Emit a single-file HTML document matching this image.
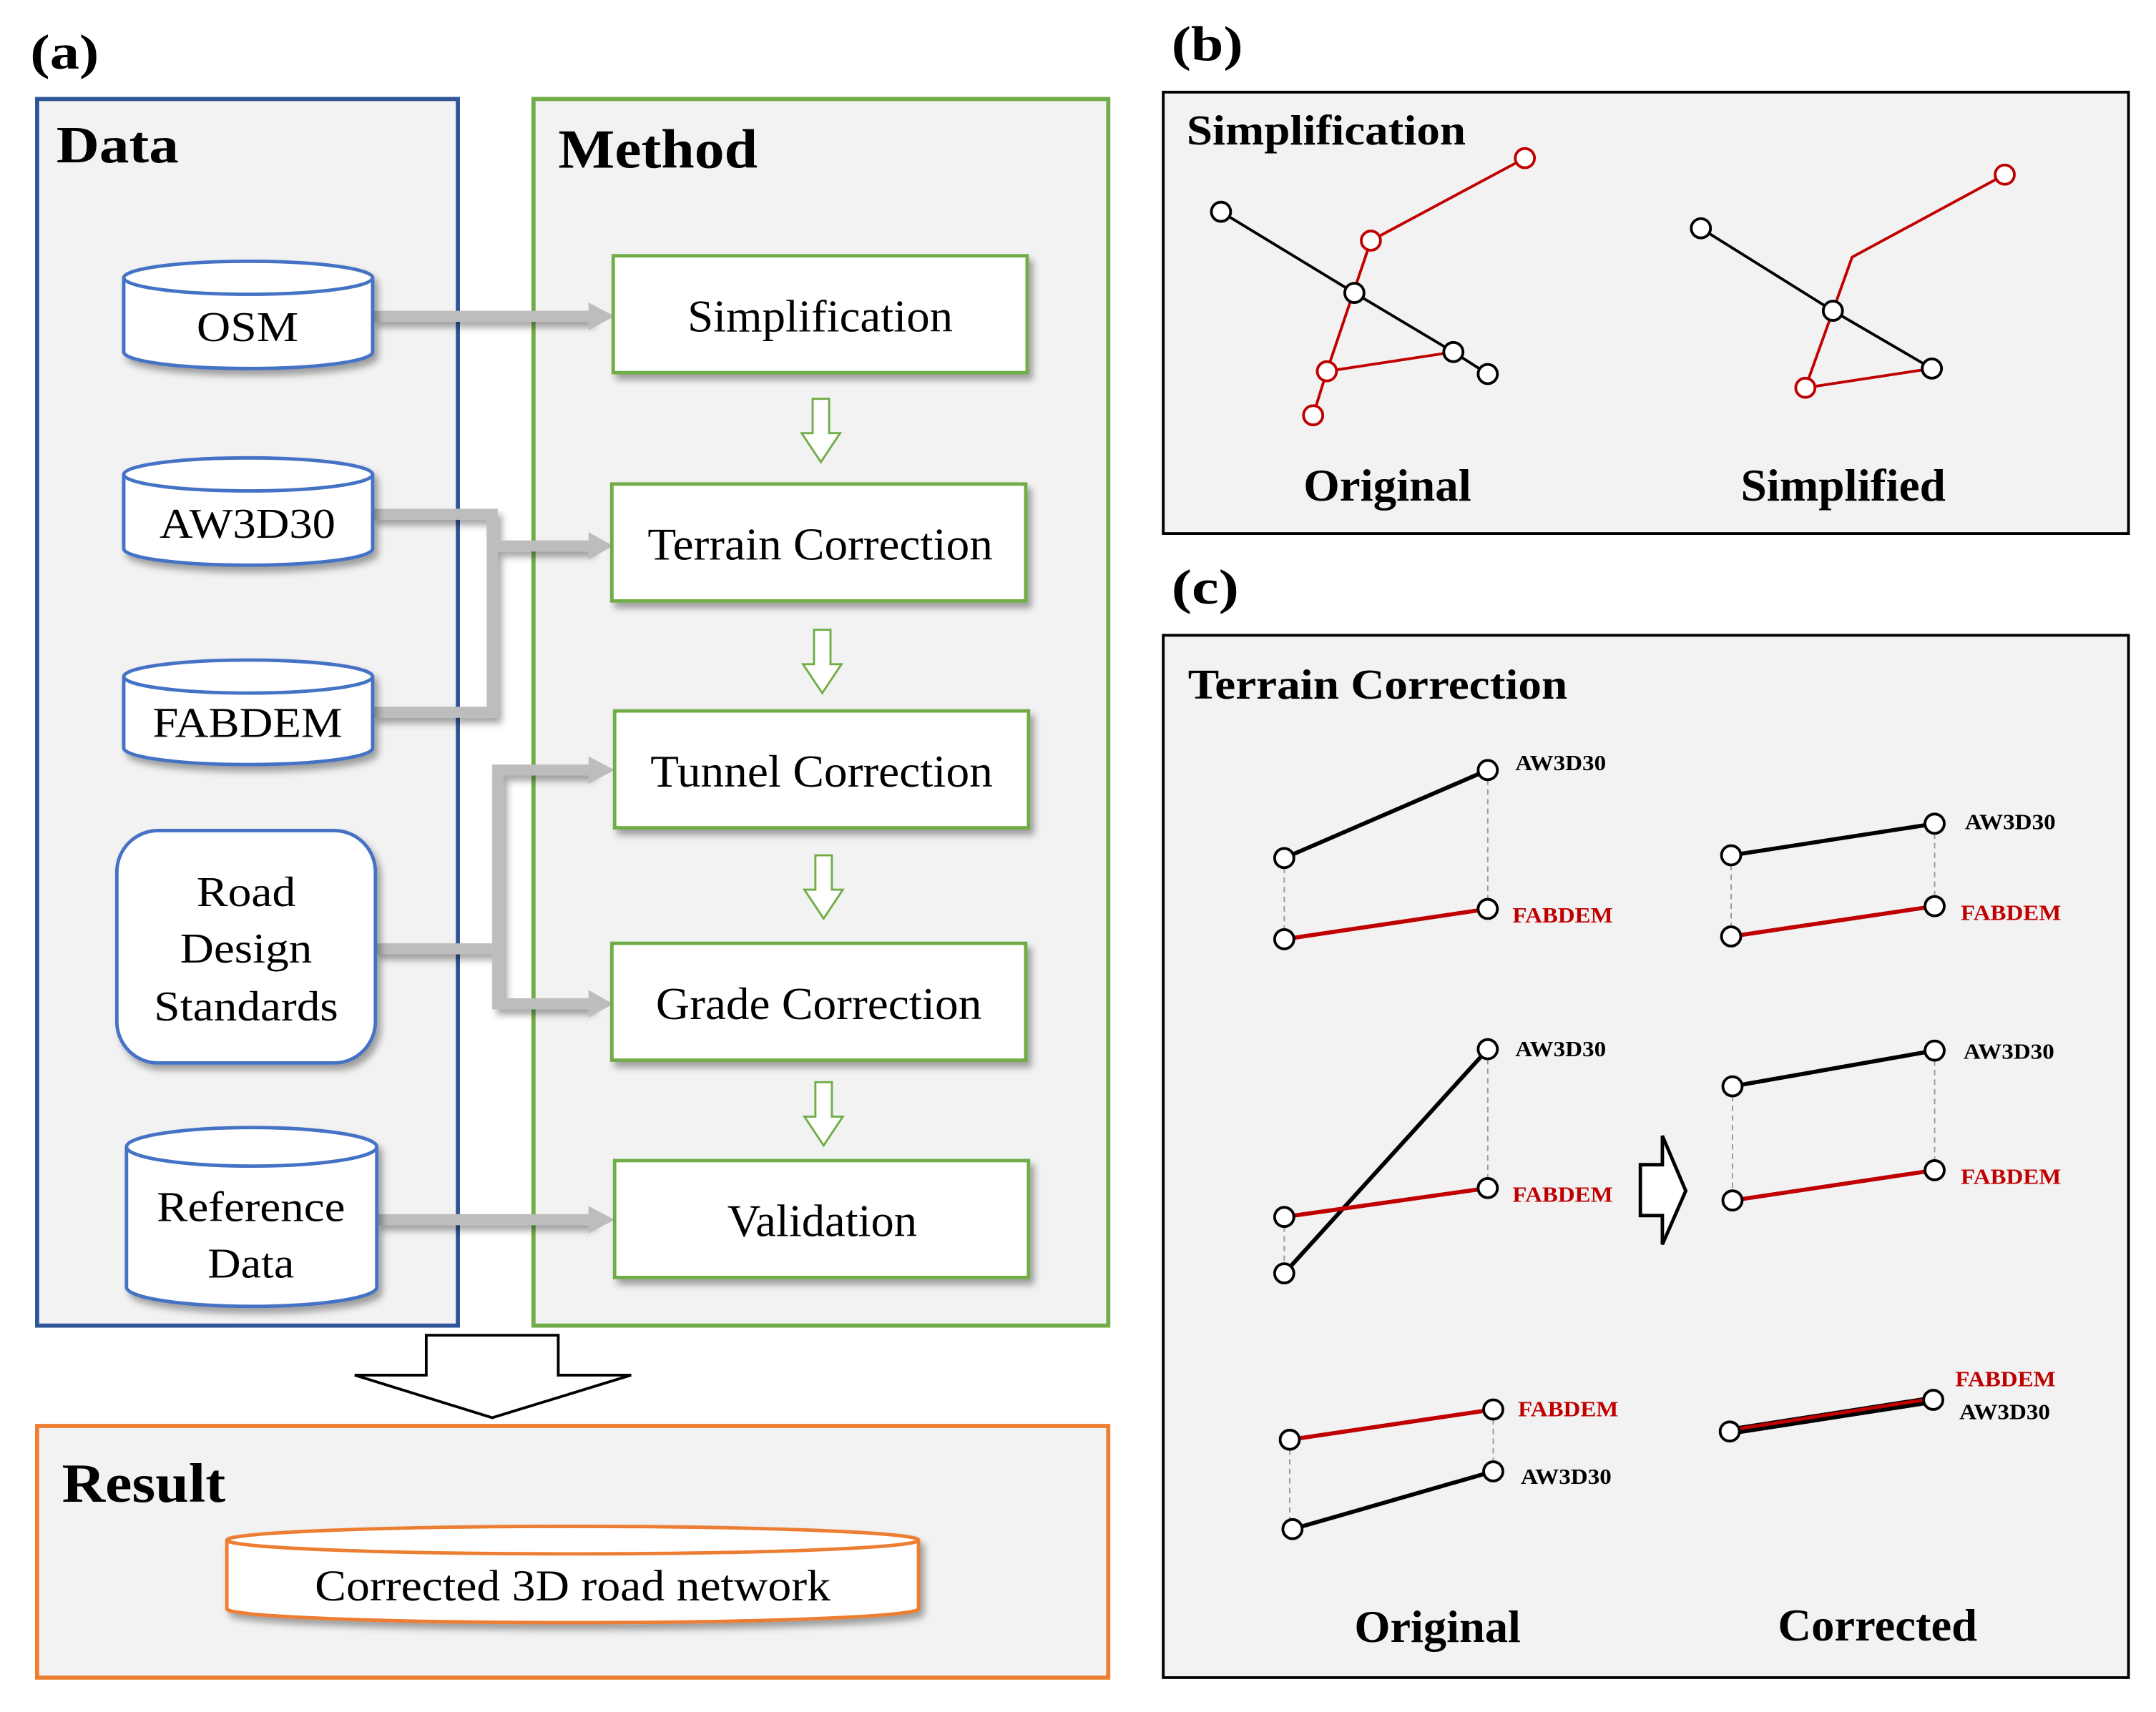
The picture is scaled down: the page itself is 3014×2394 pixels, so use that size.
<!DOCTYPE html>
<html><head><meta charset="utf-8"><style>html,body{margin:0;padding:0;background:#fff}svg{display:block}</style></head><body>
<svg width="3014" height="2394" viewBox="0 0 1568 1245" preserveAspectRatio="none" xmlns="http://www.w3.org/2000/svg" font-family="'Liberation Serif', serif">
<defs>
<filter id="sh" x="-10%" y="-10%" width="130%" height="140%"><feDropShadow dx="3" dy="4" stdDeviation="2.5" flood-color="#000" flood-opacity="0.35"/></filter>
</defs>
<rect width="1568" height="1245" fill="#fff"/>
<text x="22" y="50" font-size="36" font-weight="bold" textLength="50" lengthAdjust="spacingAndGlyphs">(a)</text>
<rect x="27" y="72" width="306" height="892" fill="#f2f2f2" stroke="#2F5597" stroke-width="3"/>
<rect x="388" y="72" width="418" height="892" fill="#f2f2f2" stroke="#70AD47" stroke-width="3"/>
<text x="41" y="118" font-size="38" font-weight="bold" textLength="89" lengthAdjust="spacingAndGlyphs">Data</text>
<text x="406" y="122" font-size="40" font-weight="bold" textLength="145" lengthAdjust="spacingAndGlyphs">Method</text>

<g stroke="#bdbdbd" stroke-width="8" fill="none" filter="url(#sh)">
<path d="M271 230 H430"/>
<path d="M271 374 H358 V518 H271"/>
<path d="M358 397 H430"/>
<path d="M273 690 H358"/>
<path d="M430 560 H362 V730 H430"/>
<path d="M274 887 H430"/>
</g>
<g fill="#bdbdbd">
<path d="M428 220 L447 230 L428 240Z"/>
<path d="M428 387 L446 397 L428 407Z"/>
<path d="M428 550 L447 560 L428 570Z"/>
<path d="M428 720 L446 730 L428 740Z"/>
<path d="M428 877 L447 887 L428 897Z"/>
</g>

<g stroke="#4472C4" stroke-width="2.5" fill="#fff" filter="url(#sh)">
<path d="M90 202 A90.5 12 0 0 1 271 202 V256 A90.5 12 0 0 1 90 256 Z"/>
<path d="M90 345 A90.5 12 0 0 1 271 345 V399 A90.5 12 0 0 1 90 399 Z"/>
<path d="M90 492 A90.5 12 0 0 1 271 492 V544 A90.5 12 0 0 1 90 544 Z"/>
<rect x="85" y="604" width="188" height="169" rx="30"/>
<path d="M92 834 A91 14 0 0 1 274 834 V936 A91 14 0 0 1 92 936 Z"/>
</g>
<g stroke="#4472C4" stroke-width="2.5" fill="none">
<path d="M90 202 A90.5 12 0 0 0 271 202"/>
<path d="M90 345 A90.5 12 0 0 0 271 345"/>
<path d="M90 492 A90.5 12 0 0 0 271 492"/>
<path d="M92 834 A91 14 0 0 0 274 834"/>
</g>
<g font-size="31" lengthAdjust="spacingAndGlyphs">
<text x="143" y="248" textLength="74" lengthAdjust="spacingAndGlyphs">OSM</text>
<text x="116" y="391" textLength="128" lengthAdjust="spacingAndGlyphs">AW3D30</text>
<text x="111" y="536" textLength="138" lengthAdjust="spacingAndGlyphs">FABDEM</text>
<text x="143" y="659" textLength="72" lengthAdjust="spacingAndGlyphs">Road</text>
<text x="131" y="700" textLength="96" lengthAdjust="spacingAndGlyphs">Design</text>
<text x="112" y="742" textLength="134" lengthAdjust="spacingAndGlyphs">Standards</text>
<text x="114" y="888" textLength="137" lengthAdjust="spacingAndGlyphs">Reference</text>
<text x="151" y="929" textLength="63" lengthAdjust="spacingAndGlyphs">Data</text>
</g>

<g stroke="#70AD47" stroke-width="2.5" fill="#fff" filter="url(#sh)">
<rect x="446" y="186" width="301" height="85"/>
<rect x="445" y="352" width="301" height="85"/>
<rect x="447" y="517" width="301" height="85"/>
<rect x="445" y="686" width="301" height="85"/>
<rect x="447" y="844" width="301" height="85"/>
</g>
<g font-size="33">
<text x="500" y="241" textLength="193" lengthAdjust="spacingAndGlyphs">Simplification</text>
<text x="471" y="407" textLength="251" lengthAdjust="spacingAndGlyphs">Terrain Correction</text>
<text x="473" y="572" textLength="249" lengthAdjust="spacingAndGlyphs">Tunnel Correction</text>
<text x="477" y="741" textLength="237" lengthAdjust="spacingAndGlyphs">Grade Correction</text>
<text x="529" y="899" textLength="138" lengthAdjust="spacingAndGlyphs">Validation</text>
</g>
<g stroke="#70AD47" stroke-width="1.5" fill="#fff">
<path d="M591 290 H603 V315 H611 L597 336 L583 315 H591 Z"/>
<path d="M592 458 H604 V483 H612 L598 504 L584 483 H592 Z"/>
<path d="M593 622 H605 V647 H613 L599 668 L585 647 H593 Z"/>
<path d="M593 787 H605 V812 H613 L599 833 L585 812 H593 Z"/>
</g>

<path d="M310 971 H406 V1000 H459 L358 1031 L258 1000 H310 Z" fill="#fff" stroke="#000" stroke-width="2"/>

<rect x="27" y="1037" width="779" height="183" fill="#f2f2f2" stroke="#ED7D31" stroke-width="3"/>
<text x="45" y="1092" font-size="40" font-weight="bold" textLength="119" lengthAdjust="spacingAndGlyphs">Result</text>
<g stroke="#ED7D31" stroke-width="2.5" fill="#fff" filter="url(#sh)">
<path d="M165 1120 A251.5 10 0 0 1 668 1120 V1170 A251.5 10 0 0 1 165 1170 Z"/>
</g>
<path d="M165 1120 A251.5 10 0 0 0 668 1120" stroke="#ED7D31" stroke-width="2.5" fill="none"/>
<text x="229" y="1164" font-size="32" textLength="375" lengthAdjust="spacingAndGlyphs">Corrected 3D road network</text>

<text x="852" y="44" font-size="36" font-weight="bold" textLength="52" lengthAdjust="spacingAndGlyphs">(b)</text>
<rect x="846" y="67" width="702" height="321" fill="#f2f2f2" stroke="#000" stroke-width="2"/>
<text x="863" y="105" font-size="31" font-weight="bold" textLength="203" lengthAdjust="spacingAndGlyphs">Simplification</text>
<g fill="none" stroke-width="2">
<path d="M888 154 L985 213 L1057 256 L1082 272" stroke="#000"/>
<path d="M1109 115 L997 175 L965 270 L955 302 M965 270 L1057 256" stroke="#c00000"/>
<path d="M1237 166 L1333 226 L1405 268" stroke="#000"/>
<path d="M1458 127 L1347 187 L1313 282 L1405 268" stroke="#c00000"/>
</g>
<g fill="#fff" stroke-width="2">
<g stroke="#000"><circle cx="888" cy="154" r="7"/><circle cx="985" cy="213" r="7"/><circle cx="1057" cy="256" r="7"/><circle cx="1082" cy="272" r="7"/><circle cx="1237" cy="166" r="7"/><circle cx="1333" cy="226" r="7"/><circle cx="1405" cy="268" r="7"/></g>
<g stroke="#c00000"><circle cx="1109" cy="115" r="7"/><circle cx="997" cy="175" r="7"/><circle cx="965" cy="270" r="7"/><circle cx="955" cy="302" r="7"/><circle cx="1458" cy="127" r="7"/><circle cx="1313" cy="282" r="7"/></g>
</g>
<g font-size="33" font-weight="bold">
<text x="948" y="364" textLength="122" lengthAdjust="spacingAndGlyphs">Original</text>
<text x="1266" y="364" textLength="149" lengthAdjust="spacingAndGlyphs">Simplified</text>
</g>

<text x="852" y="439" font-size="36" font-weight="bold" textLength="49" lengthAdjust="spacingAndGlyphs">(c)</text>
<rect x="846" y="462" width="702" height="758" fill="#f2f2f2" stroke="#000" stroke-width="2"/>
<text x="864" y="508" font-size="31" font-weight="bold" textLength="276" lengthAdjust="spacingAndGlyphs">Terrain Correction</text>
<g stroke="#999" stroke-width="1" stroke-dasharray="4 3">
<path d="M934 624 V683 M1082 560 V661"/>
<path d="M1259 622 V681 M1407 599 V659"/>
<path d="M934 885 V926 M1082 763 V864"/>
<path d="M1260 790 V873 M1407 764 V851"/>
<path d="M938 1047 V1112 M1086 1025 V1070"/>
</g>
<g fill="none" stroke-width="3">
<path d="M934 624 L1082 560" stroke="#000"/>
<path d="M934 683 L1082 661" stroke="#c00000"/>
<path d="M1259 622 L1407 599" stroke="#000"/>
<path d="M1259 681 L1407 659" stroke="#c00000"/>
<path d="M934 926 L1082 763" stroke="#000"/>
<path d="M934 885 L1082 864" stroke="#c00000"/>
<path d="M1260 790 L1407 764" stroke="#000"/>
<path d="M1260 873 L1407 851" stroke="#c00000"/>
<path d="M938 1047 L1086 1025" stroke="#c00000"/>
<path d="M940 1112 L1086 1070" stroke="#000"/>
<path d="M1258 1041 L1406 1018" stroke="#000" stroke-width="6"/>
<path d="M1258 1040 L1406 1017" stroke="#c00000" stroke-width="2.5"/>
</g>
<g fill="#fff" stroke="#000" stroke-width="2">
<circle cx="934" cy="624" r="7"/><circle cx="1082" cy="560" r="7"/><circle cx="934" cy="683" r="7"/><circle cx="1082" cy="661" r="7"/>
<circle cx="1259" cy="622" r="7"/><circle cx="1407" cy="599" r="7"/><circle cx="1259" cy="681" r="7"/><circle cx="1407" cy="659" r="7"/>
<circle cx="934" cy="926" r="7"/><circle cx="1082" cy="763" r="7"/><circle cx="934" cy="885" r="7"/><circle cx="1082" cy="864" r="7"/>
<circle cx="1260" cy="790" r="7"/><circle cx="1407" cy="764" r="7"/><circle cx="1260" cy="873" r="7"/><circle cx="1407" cy="851" r="7"/>
<circle cx="938" cy="1047" r="7"/><circle cx="1086" cy="1025" r="7"/><circle cx="940" cy="1112" r="7"/><circle cx="1086" cy="1070" r="7"/>
<circle cx="1258" cy="1041" r="7"/><circle cx="1406" cy="1018" r="7"/>
</g>
<g font-size="16" font-weight="bold">
<text x="1102" y="560" textLength="66" lengthAdjust="spacingAndGlyphs">AW3D30</text>
<text x="1100" y="671" fill="#c00000" textLength="73" lengthAdjust="spacingAndGlyphs">FABDEM</text>
<text x="1429" y="603" textLength="66" lengthAdjust="spacingAndGlyphs">AW3D30</text>
<text x="1426" y="669" fill="#c00000" textLength="73" lengthAdjust="spacingAndGlyphs">FABDEM</text>
<text x="1102" y="768" textLength="66" lengthAdjust="spacingAndGlyphs">AW3D30</text>
<text x="1100" y="874" fill="#c00000" textLength="73" lengthAdjust="spacingAndGlyphs">FABDEM</text>
<text x="1428" y="770" textLength="66" lengthAdjust="spacingAndGlyphs">AW3D30</text>
<text x="1426" y="861" fill="#c00000" textLength="73" lengthAdjust="spacingAndGlyphs">FABDEM</text>
<text x="1104" y="1030" fill="#c00000" textLength="73" lengthAdjust="spacingAndGlyphs">FABDEM</text>
<text x="1106" y="1079" textLength="66" lengthAdjust="spacingAndGlyphs">AW3D30</text>
<text x="1422" y="1008" fill="#c00000" textLength="73" lengthAdjust="spacingAndGlyphs">FABDEM</text>
<text x="1425" y="1032" textLength="66" lengthAdjust="spacingAndGlyphs">AW3D30</text>
</g>
<path d="M1193 847 H1209 V826 L1226 866 L1209 905 V884 H1193 Z" fill="#fff" stroke="#000" stroke-width="2.5"/>
<g font-size="33" font-weight="bold">
<text x="985" y="1194" textLength="121" lengthAdjust="spacingAndGlyphs">Original</text>
<text x="1293" y="1193" textLength="145" lengthAdjust="spacingAndGlyphs">Corrected</text>
</g>
</svg>
</body></html>
